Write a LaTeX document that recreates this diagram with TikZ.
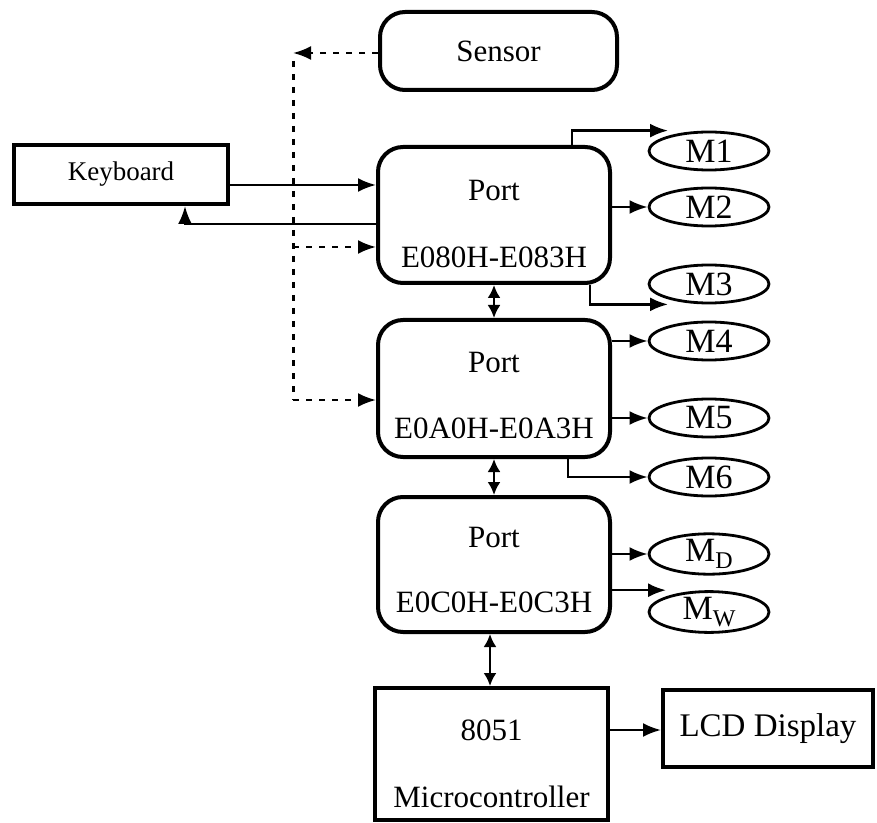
\documentclass[tikz,border=0pt]{standalone}
\usepackage{fontspec}
\setmainfont{Liberation Serif}
\usetikzlibrary{arrows.meta,shapes.geometric}
\tikzset{
  box/.style={draw, line width=2pt, inner sep=0pt},
  rbox/.style={box, rounded corners=12.5pt},
  txt/.style={inner sep=0pt, font=\fontsize{15.5}{18}\selectfont},
  mell/.style={draw, ellipse, line width=1.4pt, minimum width=60pt, minimum height=19pt, inner sep=0pt, font=\fontsize{17}{18}\selectfont},
  arr/.style={line width=1.2pt, -{Latex[length=9pt,width=7pt]}},
  darr/.style={line width=1.2pt, {Latex[length=6.5pt,width=6.5pt]}-{Latex[length=6.5pt,width=6.5pt]}},
  dsh/.style={line width=1.5pt, dash pattern=on 3pt off 3.5pt}
}
\newcommand{\subsc}[1]{\raisebox{-0.4ex}{\fontsize{12}{12}\selectfont #1}}
\begin{document}
\begin{tikzpicture}[x=0.5pt,y=-0.5pt]
\useasboundingbox (0,0) rectangle (877,823);
% boxes
\node[rbox, minimum width=118.5pt, minimum height=39pt] (sensor) at (498.5,51) {};
\node[txt] (sensortxt) at (sensor) {Sensor};
\node[box, minimum width=107pt, minimum height=29.5pt] (kbd) at (121,174.5) {};
\node[txt, font=\fontsize{13.5}{16}\selectfont] (kbdtxt) at (kbd) {Keyboard};
\node[rbox, minimum width=116pt, minimum height=68pt] (p1) at (494,215) {};
\node[txt] (p1a) at (494,191) {Port};
\node[txt] (p1b) at (494,257) {E080H-E083H};
\node[rbox, minimum width=116pt, minimum height=68.5pt] (p2) at (494,388.5) {};
\node[txt] (p2a) at (494,363) {Port};
\node[txt] (p2b) at (494,428) {E0A0H-E0A3H};
\node[rbox, minimum width=116pt, minimum height=67.5pt] (p3) at (494,564.5) {};
\node[txt] (p3a) at (494,537) {Port};
\node[txt] (p3b) at (494,602) {E0C0H-E0C3H};
\node[box, minimum width=116.5pt, minimum height=66pt] (mc) at (491.5,754) {};
\node[txt] (mca) at (491.5,730) {8051};
\node[txt] (mcb) at (491.5,797) {Microcontroller};
\node[box, minimum width=105pt, minimum height=38.5pt] (lcd) at (768,728.5) {};
\node[txt, font=\fontsize{16.5}{18}\selectfont] (lcdtxt) at (lcd) {LCD Display};
% ellipses
\node[mell] (m1) at (709,151) {M1};
\node[mell] (m2) at (709,207) {\raisebox{-0.6ex}{M2}};
\node[mell] (m3) at (709,284) {M3};
\node[mell] (m4) at (709,341) {M4};
\node[mell] (m5) at (709,418) {M5};
\node[mell] (m6) at (709,477) {M6};
\node[mell] (md) at (709,554) {M\subsc{D}};
\node[mell] (mw) at (709,612) {M\subsc{W}};
% keyboard links
\draw[arr] (kbd.east |- 0,185) -- (p1.west |- 0,185);
\draw[arr] (p1.west |- 0,224) -| (kbd.south -| 185,0);
% sensor dashed links
\coordinate (dtop) at (293,53);
\coordinate (dmid) at (293,247);
\coordinate (dbot) at (293,400);
\draw[dsh, arr] (sensor.west |- dtop) -- (dtop);
\draw[dsh] ([yshift=-4pt]dtop) -- (dbot);
\draw[dsh, arr] (dmid) -- (p1.west |- dmid);
\draw[dsh, arr] (dbot) -- (p2.west |- dbot);
% bus arrows
\draw[darr] (p1.south) -- (p2.north);
\draw[darr] (p2.south) -- (p3.north);
\draw[darr] (p3.south -| 490,0) -- (mc.north -| 490,0);
\draw[arr] (mc.east |- 0,730) -- (lcd.west |- 0,730);
% motor links
\draw[arr] (p1.north -| 572,0) |- (m1.north -| 668,0);
\draw[arr] (p1.east |- m2) -- (m2.west);
\draw[arr] (p1.south -| 590,0) |- (m3.south -| 668,0);
\draw[arr] (p2.east |- m4) -- (m4.west);
\draw[arr] (p2.east |- m5) -- (m5.west);
\draw[arr] (p2.south -| 568,0) |- (m6.west);
\draw[arr] (p3.east |- md) -- (md.west);
\draw[arr] (p3.east |- mw.north) -- (mw.north -| 666,0);
\end{tikzpicture}
\end{document}
